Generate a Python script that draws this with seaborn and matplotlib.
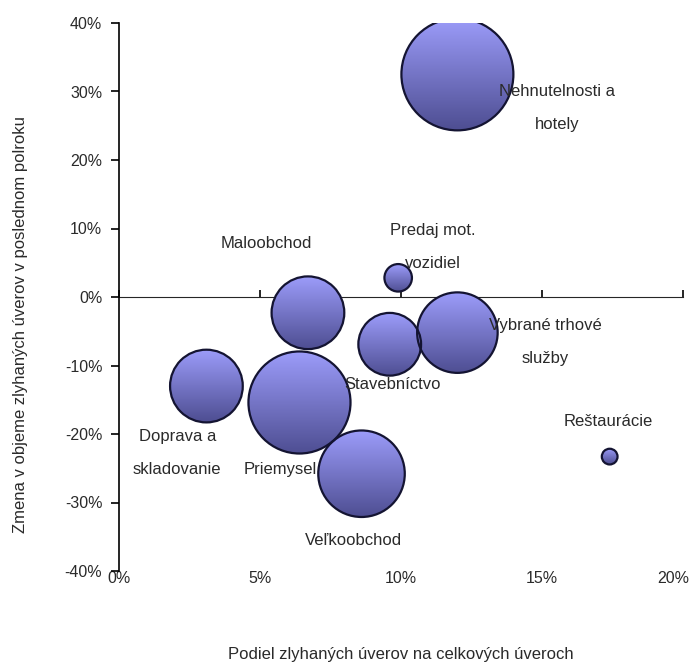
import numpy as np
import pandas as pd
import matplotlib
matplotlib.use("Agg")
import matplotlib.pyplot as plt
from matplotlib.patches import Circle
from matplotlib.transforms import IdentityTransform, ScaledTranslation
import seaborn as sns

# Sector data: share of defaulted loans (x, %), change in defaulted volume (y, %),
# and relative bubble weight (area)
sectors = [
    "Nehnutelnosti a\nhotely",
    "Predaj mot.\nvozidiel",
    "Maloobchod",
    "Vybrané trhové\nslužby",
    "Stavebníctvo",
    "Doprava a\nskladovanie",
    "Priemysel",
    "Veľkoobchod",
    "Reštaurácie",
]
share_defaulted = [12.0, 9.9, 6.7, 12.0, 9.6, 3.1, 6.4, 8.6, 17.4]
change_defaulted = [32.5, 2.8, -2.3, -5.2, -6.9, -13.0, -15.4, -25.8, -23.3]
bubble_weight = [32.5, 1.96, 13.7, 16.8, 10.2, 13.7, 27.0, 19.4, 0.64]

x_ticks = [0, 5, 10, 15, 20]
y_ticks = [-40, -30, -20, -10, 0, 10, 20, 30, 40]

# label placement relative to each bubble, in points
label_offsets = [(72, -24), (25, 22), (-30, 50), (63, -7), (2, -29),
                 (-21, -48), (-14, -48), (-6, -48), (-1, 25)]

df = pd.DataFrame({"sector": sectors, "x": share_defaulted,
                   "y": change_defaulted, "w": bubble_weight})

sns.set_style("white")
plt.rcParams["font.family"] = ["Liberation Sans", "DejaVu Sans"]
TEXT = "#2a2a2a"
FS = 12
FS_TICK = 11.5

DPI = 100
fig = plt.figure(figsize=(6.97, 6.66), dpi=DPI)
ax = fig.add_axes([119 / 697, 1 - 571 / 666, 564 / 697, 548 / 666])

area_per_unit = 200.0
sns.scatterplot(data=df, x="x", y="y", size="w",
                sizes=(area_per_unit * df.w.min(), area_per_unit * df.w.max()),
                legend=False, ax=ax, color="#7b7bd0",
                edgecolor="#141432", linewidth=1.6, zorder=5)

ax.set_xlim(0, 20)
ax.set_ylim(-40, 40)

# vertical shading inside each bubble, top light to bottom dark
pc = ax.collections[0]
sizes = pc.get_sizes()
grad_top = np.array([156, 156, 250]) / 255
grad_bot = np.array([78, 78, 146]) / 255
t = np.linspace(0, 1, 128)[:, None]
grad = (grad_top * (1 - t) + grad_bot * t)[:, None, :]
inv = ax.transData.inverted()
order = np.argsort(-df.w.values)
for k, i in enumerate(order):
    px, py = ax.transData.transform((df.x[i], df.y[i]))
    r = np.sqrt(sizes[i]) / 2 * DPI / 72
    (x0, y0) = inv.transform((px - r, py - r))
    (x1, y1) = inv.transform((px + r, py + r))
    clip = Circle((px, py), r, transform=IdentityTransform())
    im = ax.imshow(grad, extent=(x0, x1, y0, y1), aspect="auto",
                   interpolation="bilinear", zorder=3 + k * 0.01)
    im.set_clip_path(clip)
pc.set_facecolor("none")
pc.set_zorder(5)

ax.set_xlim(0, 20)
ax.set_ylim(-40, 40)
ax.set_aspect("auto")

# bubble labels
for i, lab in enumerate(sectors):
    ax.annotate(lab, (df.x[i], df.y[i]), xytext=label_offsets[i],
                textcoords="offset points", ha="center", va="center",
                multialignment="center", linespacing=2.5,
                fontsize=FS, color=TEXT, zorder=6)

# axes styling
for s in ["top", "right", "bottom"]:
    ax.spines[s].set_visible(False)
ax.spines["left"].set_color("black")
ax.spines["left"].set_linewidth(1.2)

ax.set_yticks(y_ticks)
ax.set_yticklabels([f"{v}%" for v in y_ticks])
ax.set_xticks(x_ticks)
ax.set_xticklabels([f"{v}%" for v in x_ticks])
ax.tick_params(axis="y", direction="out", length=6, width=1.2, color="black",
               labelsize=FS_TICK, labelcolor=TEXT, pad=6, left=True)
ax.tick_params(axis="x", length=0, labelsize=FS_TICK, labelcolor=TEXT, pad=0)

# keep the last x tick label inside the figure
last = ax.get_xticklabels()[-1]
last.set_transform(last.get_transform() +
                   ScaledTranslation(-7 / 72, 0, fig.dpi_scale_trans))

# horizontal axis line through zero with tick marks
sec = ax.secondary_xaxis(0.5)
sec.set_xticks(x_ticks)
sec.set_xticklabels([])
sec.spines["bottom"].set_color("black")
sec.spines["bottom"].set_linewidth(1.2)
sec.tick_params(axis="x", direction="out", length=5, width=1.2, color="black")

ax.set_xlabel("Podiel zlyhaných úverov na celkových úveroch",
              fontsize=FS, color=TEXT)
ax.xaxis.set_label_coords(0.5, -0.138)
ax.set_ylabel("Zmena v objeme zlyhaných úverov v poslednom polroku",
              fontsize=FS, color=TEXT, va="center")
ax.yaxis.set_label_coords(-0.175, 0.45)

fig.savefig("out.png", dpi=DPI)
